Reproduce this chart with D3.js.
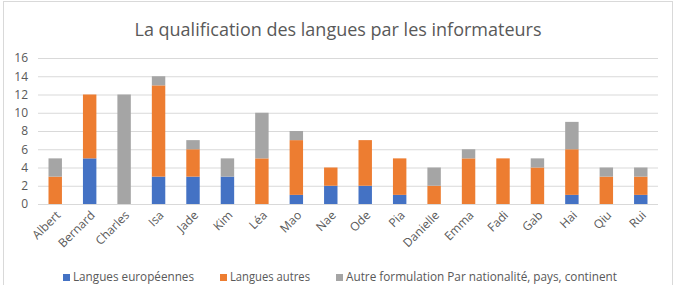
<!DOCTYPE html>
<html>
<head>
<meta charset="utf-8">
<script src="https://cdn.jsdelivr.net/npm/d3@7"></script>
<style>
  body { margin: 0; background: #fff; }
  text { font-family: "Open Sans", "Noto Sans", sans-serif; fill: #595959; }
</style>
</head>
<body>
<div id="chart"></div>
<script>
// Categories and series
const names = ['Albert', 'Bernard', 'Charles', 'Isa', 'Jade', 'Kim', 'Léa', 'Mao', 'Nae', 'Ode',
  'Pia', 'Danielle', 'Emma', 'Fadi', 'Gab', 'Hai', 'Qiu', 'Rui'];
const europeennes = [0, 5, 0, 3, 3, 3, 0, 1, 2, 2, 1, 0, 0, 0, 0, 1, 0, 1];
const autres = [3, 7, 0, 10, 3, 0, 5, 6, 2, 5, 4, 2, 5, 5, 4, 5, 3, 2];
const formulation = [2, 0, 12, 1, 1, 2, 5, 1, 0, 0, 0, 2, 1, 0, 1, 3, 1, 1];
const yTicks = [0, 2, 4, 6, 8, 10, 12, 14, 16];
const seriesNames = ['Langues européennes', 'Langues autres', 'Autre formulation Par nationalité, pays, continent'];
const colors = ['#4472C4', '#ED7D31', '#A5A5A5'];

const width = 676, height = 285;
const margin = { top: 58, right: 18, bottom: 81, left: 38 };
const plotW = width - margin.left - margin.right;
const plotH = height - margin.top - margin.bottom;

// build rows for d3.stack
const rows = names.map((n, i) => ({ name: n, s0: europeennes[i], s1: autres[i], s2: formulation[i] }));
const stacked = d3.stack().keys(['s0', 's1', 's2'])(rows);

const svg = d3.select('#chart').append('svg')
  .attr('width', width)
  .attr('height', height);

// chart border
svg.append('rect')
  .attr('x', 3.5).attr('y', 1.5)
  .attr('width', 669).attr('height', 290)
  .attr('fill', 'none')
  .attr('stroke', '#d9d9d9');

svg.append('text')
  .attr('x', 338).attr('y', 36)
  .attr('text-anchor', 'middle')
  .style('font-size', '18px')
  .text('La qualification des langues par les informateurs');

const g = svg.append('g')
  .attr('transform', 'translate(' + margin.left + ',' + margin.top + ')');

const x = d3.scaleBand()
  .domain(names)
  .range([0, plotW])
  .paddingInner(0.61)
  .paddingOuter(0.305);
const y = d3.scaleLinear()
  .domain([0, 16])
  .range([plotH, 0]);

// gridlines
g.append('g')
  .selectAll('line')
  .data(yTicks)
  .join('line')
  .attr('x1', 0).attr('x2', plotW)
  .attr('y1', d => y(d) + 0.5).attr('y2', d => y(d) + 0.5)
  .attr('stroke', '#d9d9d9');

// y axis labels
const yAxis = g.append('g')
  .call(d3.axisLeft(y).tickValues(yTicks).tickSize(0).tickPadding(10));
yAxis.select('.domain').remove();
yAxis.selectAll('text').style('font-size', '12px').attr('fill', '#595959');

// bars
g.append('g')
  .selectAll('g')
  .data(stacked)
  .join('g')
  .attr('fill', (d, i) => colors[i])
  .selectAll('rect')
  .data(d => d)
  .join('rect')
  .attr('x', d => x(d.data.name))
  .attr('y', d => y(d[1]))
  .attr('width', x.bandwidth())
  .attr('height', d => y(d[0]) - y(d[1]));

// x axis labels
const xAxis = g.append('g')
  .attr('transform', 'translate(0,' + plotH + ')')
  .call(d3.axisBottom(x).tickSize(0).tickPadding(0));
xAxis.select('.domain').remove();
xAxis.selectAll('text')
  .style('font-size', '12px')
  .attr('fill', '#595959')
  .attr('text-anchor', 'end')
  .attr('dy', 0)
  .attr('transform', 'translate(6,12) rotate(-45)');

// legend
const legendX = [63, 220, 336];
const legendW = [121, 80, 271];
const legend = svg.append('g')
  .selectAll('g')
  .data(seriesNames)
  .join('g')
  .attr('transform', (d, i) => 'translate(' + legendX[i] + ',281)');
legend.append('rect')
  .attr('x', 0).attr('y', -7)
  .attr('width', 7).attr('height', 7)
  .attr('fill', (d, i) => colors[i]);
legend.append('text')
  .attr('x', 10).attr('y', 0)
  .style('font-size', '12.5px')
  .attr('textLength', (d, i) => legendW[i])
  .attr('lengthAdjust', 'spacingAndGlyphs')
  .text(d => d);
</script>
</body>
</html>
